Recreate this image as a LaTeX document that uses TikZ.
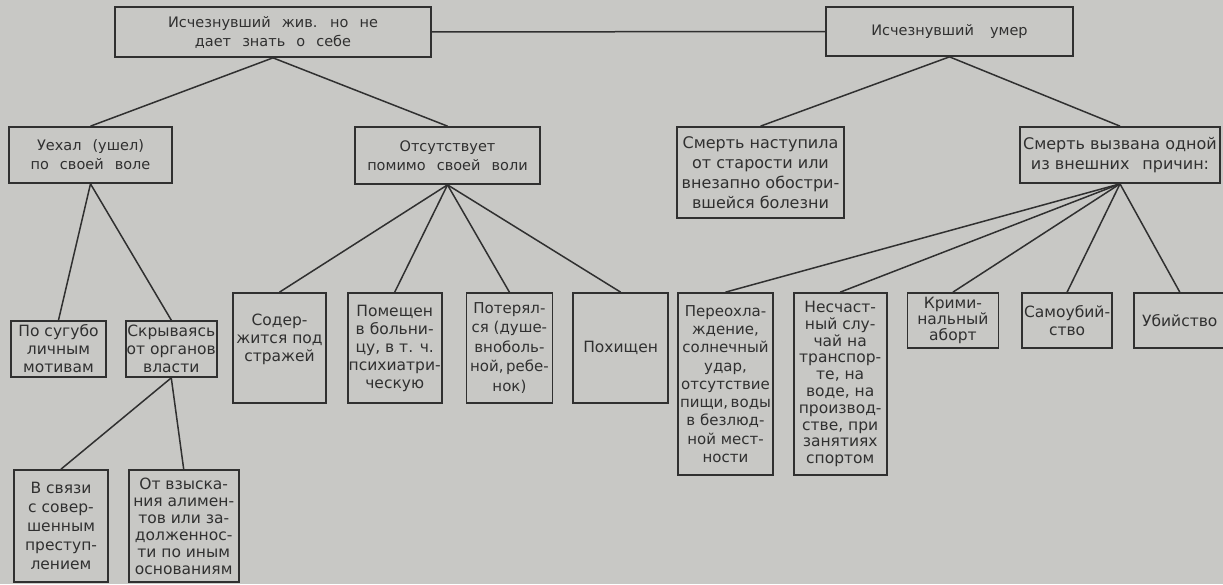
\documentclass[tikz,border=0pt]{standalone}
\usepackage{fontspec}
\setmainfont{DejaVu Sans}
\newfontfamily\widefont{DejaVu Sans}[WordSpace=2.4]
\usetikzlibrary{positioning}
\definecolor{paper}{RGB}{200,200,197}
\definecolor{ink}{RGB}{48,48,48}

\begin{document}
\begin{tikzpicture}[x=1pt,y=-1pt]
  	\tikzstyle{box}=[rectangle, draw=ink, line width=1.7pt, text=ink, inner sep=1pt, align=center, font=\fontsize{15.5}{18}\selectfont]
  	\tikzstyle{head}=[box, font=\widefont\fontsize{14.5}{19}\selectfont]
  	\tikzstyle{connect}=[draw=ink, line width=1.5pt]
  	\fill[paper] (0,0) rectangle (1223,584);
  	\useasboundingbox (0,0) rectangle (1223,584);
  	% top row
  	\node[head, minimum width=316pt, minimum height=50pt] (alive) at (273,32) {Исчезнувший жив. но не\\дает знать о себе};
  	\node[head, minimum width=247pt, minimum height=49pt] (dead) at (949.5,31.5) {Исчезнувший\hspace{1.1em}умер};
  	% second row
  	\node[head, minimum width=163pt, minimum height=56pt] (left) at (90.5,155) {Уехал (ушел)\\по своей воле};
  	\node[head, minimum width=185pt, minimum height=57pt] (absent) at (447.5,155.5) {Отсутствует\\помимо своей воли};
  	\node[box, minimum width=167pt, minimum height=91pt, font=\fontsize{16}{20}\selectfont] (old) at (760.5,172.5) {Смерть наступила\\от старости или\\внезапно обостри-\\вшейся болезни};
  	\node[box, minimum width=200pt, minimum height=56pt, font=\fontsize{16}{20}\selectfont] (cause) at (1120,155) {Смерть вызвана одной\\из внешних\hspace{0.8em}причин:};
  	% under "left"
  	\node[box, minimum width=95pt, minimum height=56pt] (motive) at (58.5,349) {По сугубо\\личным\\мотивам};
  	\node[box, minimum width=90pt, minimum height=56pt] (hide) [right=18pt of motive] {Скрываясь\\от органов\\власти};
  	\node[box, minimum width=94pt, minimum height=112pt, font=\fontsize{15.5}{19}\selectfont] (crime) at (61,526) {В связи\\с совер-\\шенным\\преступ-\\лением};
  	\node[box, minimum width=110pt, minimum height=112pt, font=\fontsize{15.5}{17}\selectfont] (alim) [right=19pt of crime] {От взыска-\\ния алимен-\\тов или за-\\долженнос-\\ти по иным\\основаниям};
  	% under "absent"
  	\node[box, minimum width=93pt, minimum height=110pt] (guard) at (279.5,348) {Содер-\\жится под\\стражей\\[2pt]};
  	\node[box, minimum width=91pt, minimum height=110pt] (hosp) [right=20pt of guard] {Помещен\\в больни-\\цу, в т. ч.\\психиатри-\\ческую};
  	\node[box, minimum width=86pt, minimum height=110pt, font=\fontsize{15}{19.5}\selectfont] (lost) [right=23pt of hosp] {Потерял-\\ся (душе-\\вноболь-\\ной,\,ребе-\\нок)};
  	\node[box, minimum width=95pt, minimum height=110pt] (kidnap) [right=19pt of lost] {Похищен};
  	% under "cause"
  	\node[box, minimum width=95pt, minimum height=182pt, font=\fontsize{15}{18.3}\selectfont] (cold) at (725.5,384) {Переохла-\\ждение,\\солнечный\\удар,\\отсутствие\\пищи,\,воды\\в безлюд-\\ной мест-\\ности};
  	\node[box, minimum width=93pt, minimum height=182pt, font=\fontsize{15.5}{16.8}\selectfont] (accid) [right=19pt of cold] {Несчаст-\\ный слу-\\чай на\\транспор-\\те, на\\воде, на\\производ-\\стве, при\\занятиях\\спортом};
  	\node[box, minimum width=91pt, minimum height=55pt, font=\fontsize{15.5}{16}\selectfont] (abort) [right=19pt of accid.north east, anchor=north west] {Крими-\\нальный\\аборт};
  	\node[box, minimum width=90pt, minimum height=55pt] (suic) [right=22pt of abort] {Самоубий-\\ство};
  	\node[box, minimum width=92pt, minimum height=55pt] (murder) [right=20pt of suic] {Убийство};

  	\path (alive) edge [connect] (dead)
  	(alive.south) edge [connect] (left.north)
  	(alive.south) edge [connect] (absent.north)
  	(dead.south) edge [connect] (old.north)
  	(dead.south) edge [connect] (cause.north)
  	(left.south) edge [connect] (motive.north)
  	(left.south) edge [connect] (hide.north)
  	(hide.south) edge [connect] (crime.north)
  	(hide.south) edge [connect] (alim.north);
  	\foreach \n in {guard,hosp,lost,kidnap}
  	  \path (absent.south) edge [connect] (\n.north);
  	\foreach \n in {cold,accid,abort,suic,murder}
  	  \path (cause.south) edge [connect] (\n.north);
\end{tikzpicture}
\end{document}
